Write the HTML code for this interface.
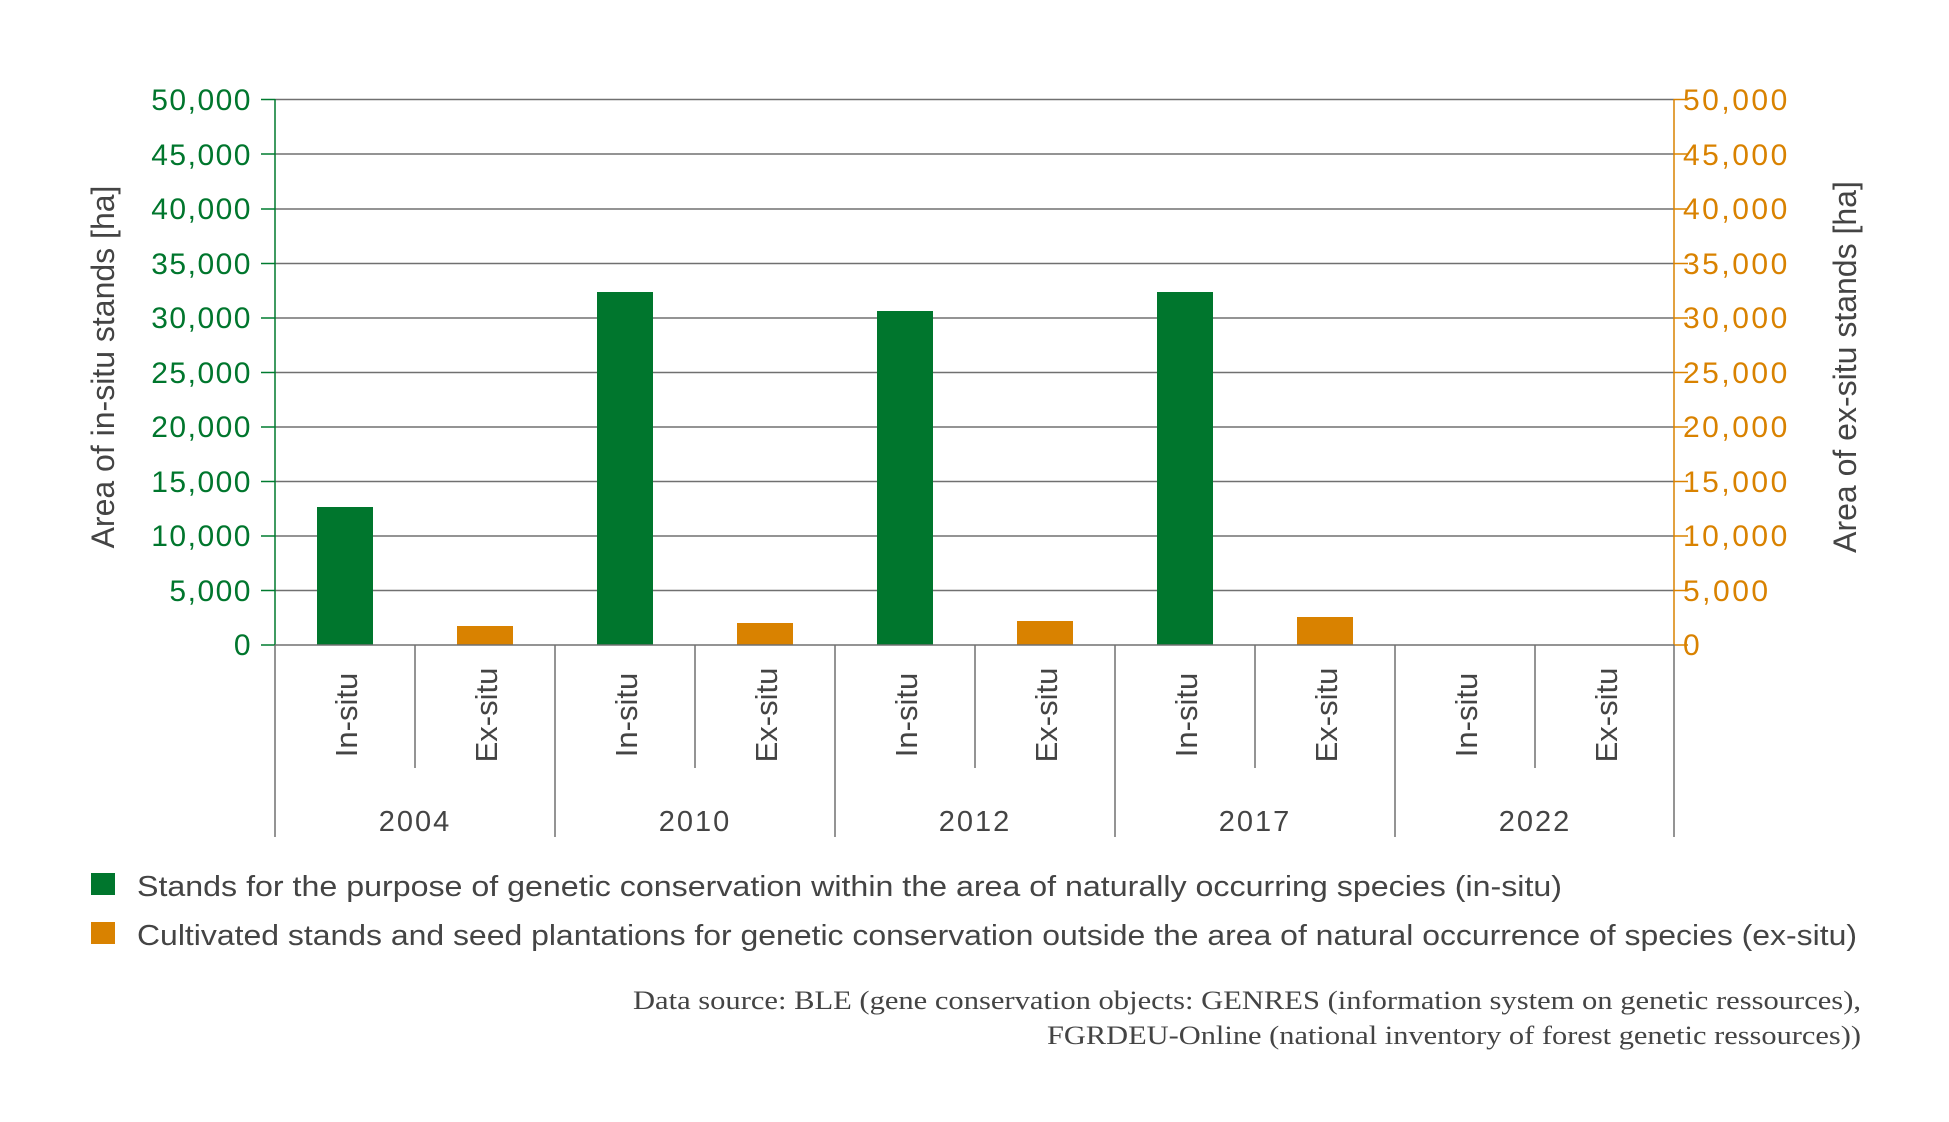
<!DOCTYPE html>
<html><head><meta charset="utf-8"><style>
html,body{margin:0;padding:0;background:#fff;}
svg{display:block;}
text{font-family:"Liberation Sans",sans-serif;}
text.serif{font-family:"Liberation Serif",serif;}
</style></head><body>
<svg width="1949" height="1122" viewBox="0 0 1949 1122" xmlns="http://www.w3.org/2000/svg">
<g stroke="#707070" stroke-width="1.5">
<line x1="275" y1="99.5" x2="1674" y2="99.5"/>
<line x1="275" y1="154" x2="1674" y2="154"/>
<line x1="275" y1="209" x2="1674" y2="209"/>
<line x1="275" y1="263.5" x2="1674" y2="263.5"/>
<line x1="275" y1="318" x2="1674" y2="318"/>
<line x1="275" y1="372.5" x2="1674" y2="372.5"/>
<line x1="275" y1="427" x2="1674" y2="427"/>
<line x1="275" y1="481.5" x2="1674" y2="481.5"/>
<line x1="275" y1="536" x2="1674" y2="536"/>
<line x1="275" y1="590.5" x2="1674" y2="590.5"/>
</g>
<g stroke="#007a2f" stroke-width="1.5">
<line x1="261" y1="99.5" x2="275" y2="99.5"/><line x1="261" y1="154" x2="275" y2="154"/><line x1="261" y1="209" x2="275" y2="209"/><line x1="261" y1="263.5" x2="275" y2="263.5"/><line x1="261" y1="318" x2="275" y2="318"/><line x1="261" y1="372.5" x2="275" y2="372.5"/><line x1="261" y1="427" x2="275" y2="427"/><line x1="261" y1="481.5" x2="275" y2="481.5"/><line x1="261" y1="536" x2="275" y2="536"/><line x1="261" y1="590.5" x2="275" y2="590.5"/><line x1="261" y1="645" x2="275" y2="645"/>
<line x1="275" y1="99" x2="275" y2="645"/>
</g>
<g stroke="#d98200" stroke-width="1.5">
<line x1="1674" y1="99.5" x2="1688" y2="99.5"/><line x1="1674" y1="154" x2="1688" y2="154"/><line x1="1674" y1="209" x2="1688" y2="209"/><line x1="1674" y1="263.5" x2="1688" y2="263.5"/><line x1="1674" y1="318" x2="1688" y2="318"/><line x1="1674" y1="372.5" x2="1688" y2="372.5"/><line x1="1674" y1="427" x2="1688" y2="427"/><line x1="1674" y1="481.5" x2="1688" y2="481.5"/><line x1="1674" y1="536" x2="1688" y2="536"/><line x1="1674" y1="590.5" x2="1688" y2="590.5"/><line x1="1674" y1="645" x2="1688" y2="645"/>
<line x1="1674" y1="99" x2="1674" y2="645"/>
</g>
<g fill="#00762d">
<rect x="317" y="507" width="56" height="138"/>
<rect x="597" y="292" width="56" height="353"/>
<rect x="877" y="311" width="56" height="334"/>
<rect x="1157" y="292" width="56" height="353"/>
</g>
<g fill="#d98200">
<rect x="457" y="626" width="56" height="19"/>
<rect x="737" y="623" width="56" height="22"/>
<rect x="1017" y="621" width="56" height="24"/>
<rect x="1297" y="617" width="56" height="28"/>
</g>
<g stroke="#707070" stroke-width="1.5">
<line x1="275" y1="645" x2="1674" y2="645"/>
<line x1="275" y1="645" x2="275" y2="837"/>
<line x1="415" y1="645" x2="415" y2="768"/>
<line x1="555" y1="645" x2="555" y2="837"/>
<line x1="695" y1="645" x2="695" y2="768"/>
<line x1="835" y1="645" x2="835" y2="837"/>
<line x1="975" y1="645" x2="975" y2="768"/>
<line x1="1115" y1="645" x2="1115" y2="837"/>
<line x1="1255" y1="645" x2="1255" y2="768"/>
<line x1="1395" y1="645" x2="1395" y2="837"/>
<line x1="1535" y1="645" x2="1535" y2="768"/>
<line x1="1674" y1="645" x2="1674" y2="837"/>
</g>
<g fill="#444" font-size="31">
<text transform="translate(357,715) rotate(-90)" text-anchor="middle">In-situ</text>
<text transform="translate(497,715) rotate(-90)" text-anchor="middle">Ex-situ</text>
<text transform="translate(637,715) rotate(-90)" text-anchor="middle">In-situ</text>
<text transform="translate(777,715) rotate(-90)" text-anchor="middle">Ex-situ</text>
<text transform="translate(917,715) rotate(-90)" text-anchor="middle">In-situ</text>
<text transform="translate(1057,715) rotate(-90)" text-anchor="middle">Ex-situ</text>
<text transform="translate(1197,715) rotate(-90)" text-anchor="middle">In-situ</text>
<text transform="translate(1337,715) rotate(-90)" text-anchor="middle">Ex-situ</text>
<text transform="translate(1477,715) rotate(-90)" text-anchor="middle">In-situ</text>
<text transform="translate(1617,715) rotate(-90)" text-anchor="middle">Ex-situ</text>
</g>
<g fill="#444" font-size="29" text-anchor="middle" letter-spacing="2">
<text x="415" y="831">2004</text><text x="695" y="831">2010</text><text x="975" y="831">2012</text><text x="1255" y="831">2017</text><text x="1535" y="831">2022</text>
</g>
<g fill="#00762d" font-size="30" text-anchor="end" letter-spacing="1.5">
<text x="252" y="110">50,000</text><text x="252" y="165">45,000</text><text x="252" y="219">40,000</text><text x="252" y="274">35,000</text><text x="252" y="328">30,000</text><text x="252" y="383">25,000</text><text x="252" y="437">20,000</text><text x="252" y="492">15,000</text><text x="252" y="546">10,000</text><text x="252" y="601">5,000</text><text x="252" y="655">0</text>
</g>
<g fill="#d98200" font-size="30" letter-spacing="2.5">
<text x="1683" y="110">50,000</text><text x="1683" y="165">45,000</text><text x="1683" y="219">40,000</text><text x="1683" y="274">35,000</text><text x="1683" y="328">30,000</text><text x="1683" y="383">25,000</text><text x="1683" y="437">20,000</text><text x="1683" y="492">15,000</text><text x="1683" y="546">10,000</text><text x="1683" y="601">5,000</text><text x="1683" y="655">0</text>
</g>
<text transform="translate(114,367) rotate(-90)" text-anchor="middle" fill="#444" font-size="32">Area of in-situ stands [ha]</text>
<text transform="translate(1856,367) rotate(-90)" text-anchor="middle" fill="#444" font-size="32">Area of ex-situ stands [ha]</text>
<rect x="91" y="873" width="24" height="22" fill="#00762d"/>
<rect x="91" y="922" width="24" height="22" fill="#d98200"/>
<text x="137" y="896" fill="#444" font-size="29" textLength="1425" lengthAdjust="spacingAndGlyphs">Stands for the purpose of genetic conservation within the area of naturally occurring species (in-situ)</text>
<text x="137" y="945" fill="#444" font-size="29" textLength="1720" lengthAdjust="spacingAndGlyphs">Cultivated stands and seed plantations for genetic conservation outside the area of natural occurrence of species (ex-situ)</text>
<text class="serif" x="1861" y="1009" fill="#444" font-size="26" text-anchor="end" textLength="1228" lengthAdjust="spacingAndGlyphs">Data source: BLE (gene conservation objects: GENRES (information system on genetic ressources),</text>
<text class="serif" x="1861" y="1044" fill="#444" font-size="26" text-anchor="end" textLength="814" lengthAdjust="spacingAndGlyphs">FGRDEU-Online (national inventory of forest genetic ressources))</text>
</svg>
</body></html>
